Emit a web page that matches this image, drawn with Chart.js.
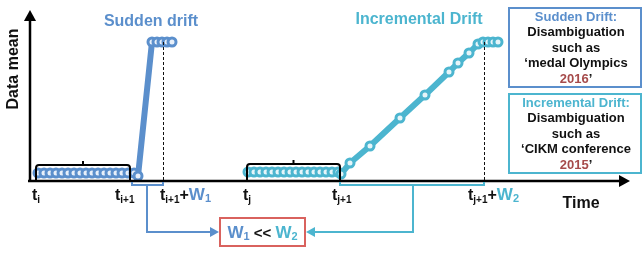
<!DOCTYPE html>
<html>
<head>
<meta charset="utf-8">
<script src="https://cdn.jsdelivr.net/npm/chart.js@4"></script>
<style>
    html, body { margin: 0; padding: 0; background: #fff; }
    canvas { display: block; }
</style>
</head>
<body>
<canvas id="chart" width="642" height="255"></canvas>
<script>
// ---------------------------------------------------------------------------
// Data (x = time units, y = data mean units)
// ---------------------------------------------------------------------------
const suddenX = [0.8, 1.4, 2.0, 2.6, 3.2, 3.8, 4.4, 5.0, 5.6, 6.2, 6.8, 7.4, 8.0, 8.6, 9.2, 9.8, 10.4,
                 10.8, 12.2, 12.7, 13.2, 13.7, 14.2];
const suddenY = [0.8, 0.8, 0.8, 0.8, 0.8, 0.8, 0.8, 0.8, 0.8, 0.8, 0.8, 0.8, 0.8, 0.8, 0.8, 0.8, 0.8,
                 0.5, 13.9, 13.9, 13.9, 13.9, 13.9];

const incrX = [21.8, 22.4, 23.0, 23.6, 24.2, 24.8, 25.4, 26.0, 26.6, 27.2, 27.8, 28.4, 29.0, 29.6, 30.2, 30.8,
               31.1, 32.0, 34.0, 37.0, 39.5, 41.9, 42.8, 43.9, 44.8, 45.3, 45.8, 46.3, 46.8];
const incrY = [0.9, 0.9, 0.9, 0.9, 0.9, 0.9, 0.9, 0.9, 0.9, 0.9, 0.9, 0.9, 0.9, 0.9, 0.9, 0.9,
               0.7, 1.8, 3.5, 6.3, 8.6, 10.9, 11.8, 12.8, 13.7, 13.9, 13.9, 13.9, 13.9];

// Tick times on the time axis and their labels
const tickTimes  = [0.6, 10.0, 13.3, 21.7, 31.0, 45.4];
const tickLabels = [
    [['t', 'b'], ['i', 's']],
    [['t', 'b'], ['i+1', 's']],
    [['t', 'b'], ['i+1', 's'], ['+', 'b'], ['W', 'w1'], ['1', 'w1s']],
    [['t', 'b'], ['j', 's']],
    [['t', 'b'], ['j+1', 's']],
    [['t', 'b'], ['j+1', 's'], ['+', 'b'], ['W', 'w2'], ['2', 'w2s']],
];

const BLUE = '#5b8fcc';
const CYAN = '#4cb5cf';
const RED  = '#d9625e';
const BROWN = '#a64b4b';
const FONT = '"Liberation Sans", Arial, sans-serif';

// ---------------------------------------------------------------------------
// Drawing helpers
// ---------------------------------------------------------------------------
const styles = {
    b:   { size: 16, color: '#111', dy: 0 },
    s:   { size: 10, color: '#111', dy: 3 },
    w1:  { size: 17, color: BLUE, dy: 0 },
    w1s: { size: 11, color: BLUE, dy: 2 },
    w2:  { size: 17, color: CYAN, dy: 0 },
    w2s: { size: 11, color: CYAN, dy: 2 },
    k:   { size: 15, color: '#111', dy: 0 },
};

function runWidth(ctx, parts) {
    let w = 0;
    parts.forEach(([t, s]) => {
        ctx.font = `bold ${styles[s].size}px ${FONT}`;
        w += ctx.measureText(t).width;
    });
    return w;
}

function drawRun(ctx, x, y, parts) {
    ctx.textBaseline = 'alphabetic';
    ctx.textAlign = 'left';
    parts.forEach(([t, s]) => {
        const st = styles[s];
        ctx.font = `bold ${st.size}px ${FONT}`;
        ctx.fillStyle = st.color;
        ctx.fillText(t, x, y + st.dy);
        x += ctx.measureText(t).width;
    });
}

function arrowHead(ctx, x, y, dir, size, color) {
    ctx.save();
    ctx.fillStyle = color;
    ctx.translate(x, y);
    ctx.rotate(dir);
    ctx.beginPath();
    ctx.moveTo(0, 0);
    ctx.lineTo(-size, -size * 0.55);
    ctx.lineTo(-size, size * 0.55);
    ctx.closePath();
    ctx.fill();
    ctx.restore();
}

function topBrace(ctx, x1, x2, yBase, yTop) {
    const r = 3;
    ctx.beginPath();
    ctx.moveTo(x1, yBase);
    ctx.lineTo(x1, yTop + r);
    ctx.quadraticCurveTo(x1, yTop, x1 + r, yTop);
    ctx.lineTo(x2 - r, yTop);
    ctx.quadraticCurveTo(x2, yTop, x2, yTop + r);
    ctx.lineTo(x2, yBase);
    ctx.moveTo((x1 + x2) / 2, yTop);
    ctx.lineTo((x1 + x2) / 2, yTop - 4);
    ctx.stroke();
}

function centerLines(ctx, cx, y0, lines) {
    ctx.textAlign = 'center';
    ctx.textBaseline = 'middle';
    lines.forEach((ln, i) => {
        const y = y0 + i * 15.6;
        ctx.font = `bold 13px ${FONT}`;
        if (Array.isArray(ln.text)) {
            const w = ln.text.reduce((a, p) => a + ctx.measureText(p[0]).width, 0);
            let x = cx - w / 2;
            ctx.textAlign = 'left';
            ln.text.forEach(([t, c]) => {
                ctx.fillStyle = c;
                ctx.fillText(t, x, y);
                x += ctx.measureText(t).width;
            });
            ctx.textAlign = 'center';
        } else {
            ctx.fillStyle = ln.color || '#111';
            ctx.fillText(ln.text, cx, y);
        }
    });
}

// ---------------------------------------------------------------------------
// Annotation plugin: axes, braces, windows, labels, legend boxes
// ---------------------------------------------------------------------------
const diagramPlugin = {
    id: 'diagram',
    afterDatasetsDraw(chart) {
        const { ctx, chartArea, scales } = chart;
        const xs = scales.x, ys = scales.y;
        const px = v => xs.getPixelForValue(v);
        const axisY = chartArea.bottom;
        const topY = ys.getPixelForValue(13.9);

        ctx.save();
        ctx.lineCap = 'butt';

        // dashed window ends
        ctx.strokeStyle = '#111';
        ctx.lineWidth = 1;
        ctx.setLineDash([3, 2]);
        [13.3, 45.4].forEach(v => {
            ctx.beginPath();
            ctx.moveTo(px(v) + 0.5, topY);
            ctx.lineTo(px(v) + 0.5, axisY);
            ctx.stroke();
        });
        ctx.setLineDash([]);

        // axes
        ctx.strokeStyle = '#000';
        ctx.lineWidth = 2.5;
        ctx.beginPath();
        ctx.moveTo(chartArea.left - 2, axisY);
        ctx.lineTo(chartArea.right - 6, axisY);
        ctx.moveTo(chartArea.left, axisY);
        ctx.lineTo(chartArea.left, chartArea.top + 6);
        ctx.stroke();
        arrowHead(ctx, chartArea.right, axisY, 0, 11, '#000');
        arrowHead(ctx, chartArea.left, chartArea.top, -Math.PI / 2, 11, '#000');

        // braces over flat sections
        ctx.lineWidth = 2;
        topBrace(ctx, px(0.6), px(10.0), axisY, 165);
        topBrace(ctx, px(21.7), px(31.0), axisY, 164);

        // window brackets below axis and connectors to the comparison box
        ctx.strokeStyle = BLUE;
        ctx.beginPath();
        ctx.moveTo(px(10.2), axisY + 1);
        ctx.lineTo(px(10.2), axisY + 4);
        ctx.lineTo(px(13.3), axisY + 4);
        ctx.lineTo(px(13.3), axisY + 1);
        ctx.moveTo(147, axisY + 4);
        ctx.lineTo(147, 232);
        ctx.lineTo(211, 232);
        ctx.stroke();
        arrowHead(ctx, 219, 232, 0, 9, BLUE);

        ctx.strokeStyle = CYAN;
        ctx.beginPath();
        ctx.moveTo(px(31.0), axisY + 1);
        ctx.lineTo(px(31.0), axisY + 4);
        ctx.lineTo(px(45.4), axisY + 4);
        ctx.lineTo(px(45.4), axisY + 1);
        ctx.moveTo(413, axisY + 4);
        ctx.lineTo(413, 232);
        ctx.lineTo(314, 232);
        ctx.stroke();
        arrowHead(ctx, 306, 232, Math.PI, 9, CYAN);

        // comparison box
        ctx.strokeStyle = RED;
        ctx.strokeRect(220, 218, 85, 28);
        const cmp = [['W', 'w1'], ['1', 'w1s'], [' << ', 'k'], ['W', 'w2'], ['2', 'w2s']];
        drawRun(ctx, 262.5 - runWidth(ctx, cmp) / 2, 238, cmp);

        // tick labels
        const offsets = [-4, -15, -3, -4, -8, -16];
        tickTimes.forEach((t, i) => {
            drawRun(ctx, px(t) + offsets[i], 200, tickLabels[i]);
        });

        // titles
        ctx.font = `bold 16px ${FONT}`;
        ctx.textAlign = 'center';
        ctx.textBaseline = 'middle';
        ctx.fillStyle = BLUE;
        ctx.fillText('Sudden drift', 151, 22);
        ctx.fillStyle = CYAN;
        ctx.fillText('Incremental Drift', 419, 20);
        ctx.fillStyle = '#111';
        ctx.fillText('Time', 581, 204);

        ctx.save();
        ctx.translate(14, 69);
        ctx.rotate(-Math.PI / 2);
        ctx.font = `bold 16px ${FONT}`;
        ctx.fillText('Data mean', 0, 0);
        ctx.restore();

        // legend boxes
        ctx.lineWidth = 2;
        ctx.strokeStyle = BLUE;
        ctx.strokeRect(509, 8, 132, 79);
        ctx.strokeStyle = CYAN;
        ctx.strokeRect(509, 94, 132, 79);

        centerLines(ctx, 576, 17, [
            { text: 'Sudden Drift:', color: BLUE },
            { text: 'Disambiguation' },
            { text: 'such as' },
            { text: '\u2018medal Olympics' },
            { text: [['2016', BROWN], ['\u2019', '#111']] },
        ]);
        centerLines(ctx, 576, 103, [
            { text: 'Incremental Drift:', color: CYAN },
            { text: 'Disambiguation' },
            { text: 'such as' },
            { text: '\u2018CIKM conference' },
            { text: [['2015', BROWN], ['\u2019', '#111']] },
        ]);

        ctx.restore();
    },
};

// ---------------------------------------------------------------------------
// Chart
// ---------------------------------------------------------------------------
const toPoints = (xs, ys) => xs.map((x, i) => ({ x, y: ys[i] }));

new Chart(document.getElementById('chart').getContext('2d'), {
    type: 'line',
    data: {
        datasets: [
            {
                label: 'Sudden drift',
                data: toPoints(suddenX, suddenY),
                borderColor: BLUE,
                borderWidth: 6,
                pointRadius: 4,
                pointBorderWidth: 3,
                pointBorderColor: BLUE,
                pointBackgroundColor: '#e8f0fa',
                tension: 0,
                clip: false,
            },
            {
                label: 'Incremental drift',
                data: toPoints(incrX, incrY),
                borderColor: CYAN,
                borderWidth: 6,
                pointRadius: 4,
                pointBorderWidth: 3,
                pointBorderColor: CYAN,
                pointBackgroundColor: '#e6f5f9',
                tension: 0,
                clip: false,
            },
        ],
    },
    options: {
        responsive: false,
        animation: false,
        devicePixelRatio: 1,
        layout: { padding: { left: 30, right: 12, top: 10, bottom: 74 } },
        plugins: {
            legend: { display: false },
            tooltip: { enabled: false },
        },
        scales: {
            x: { type: 'linear', min: 0, max: 60, display: false },
            y: { type: 'linear', min: 0, max: 17.1, display: false },
        },
    },
    plugins: [diagramPlugin],
});
</script>
</body>
</html>
